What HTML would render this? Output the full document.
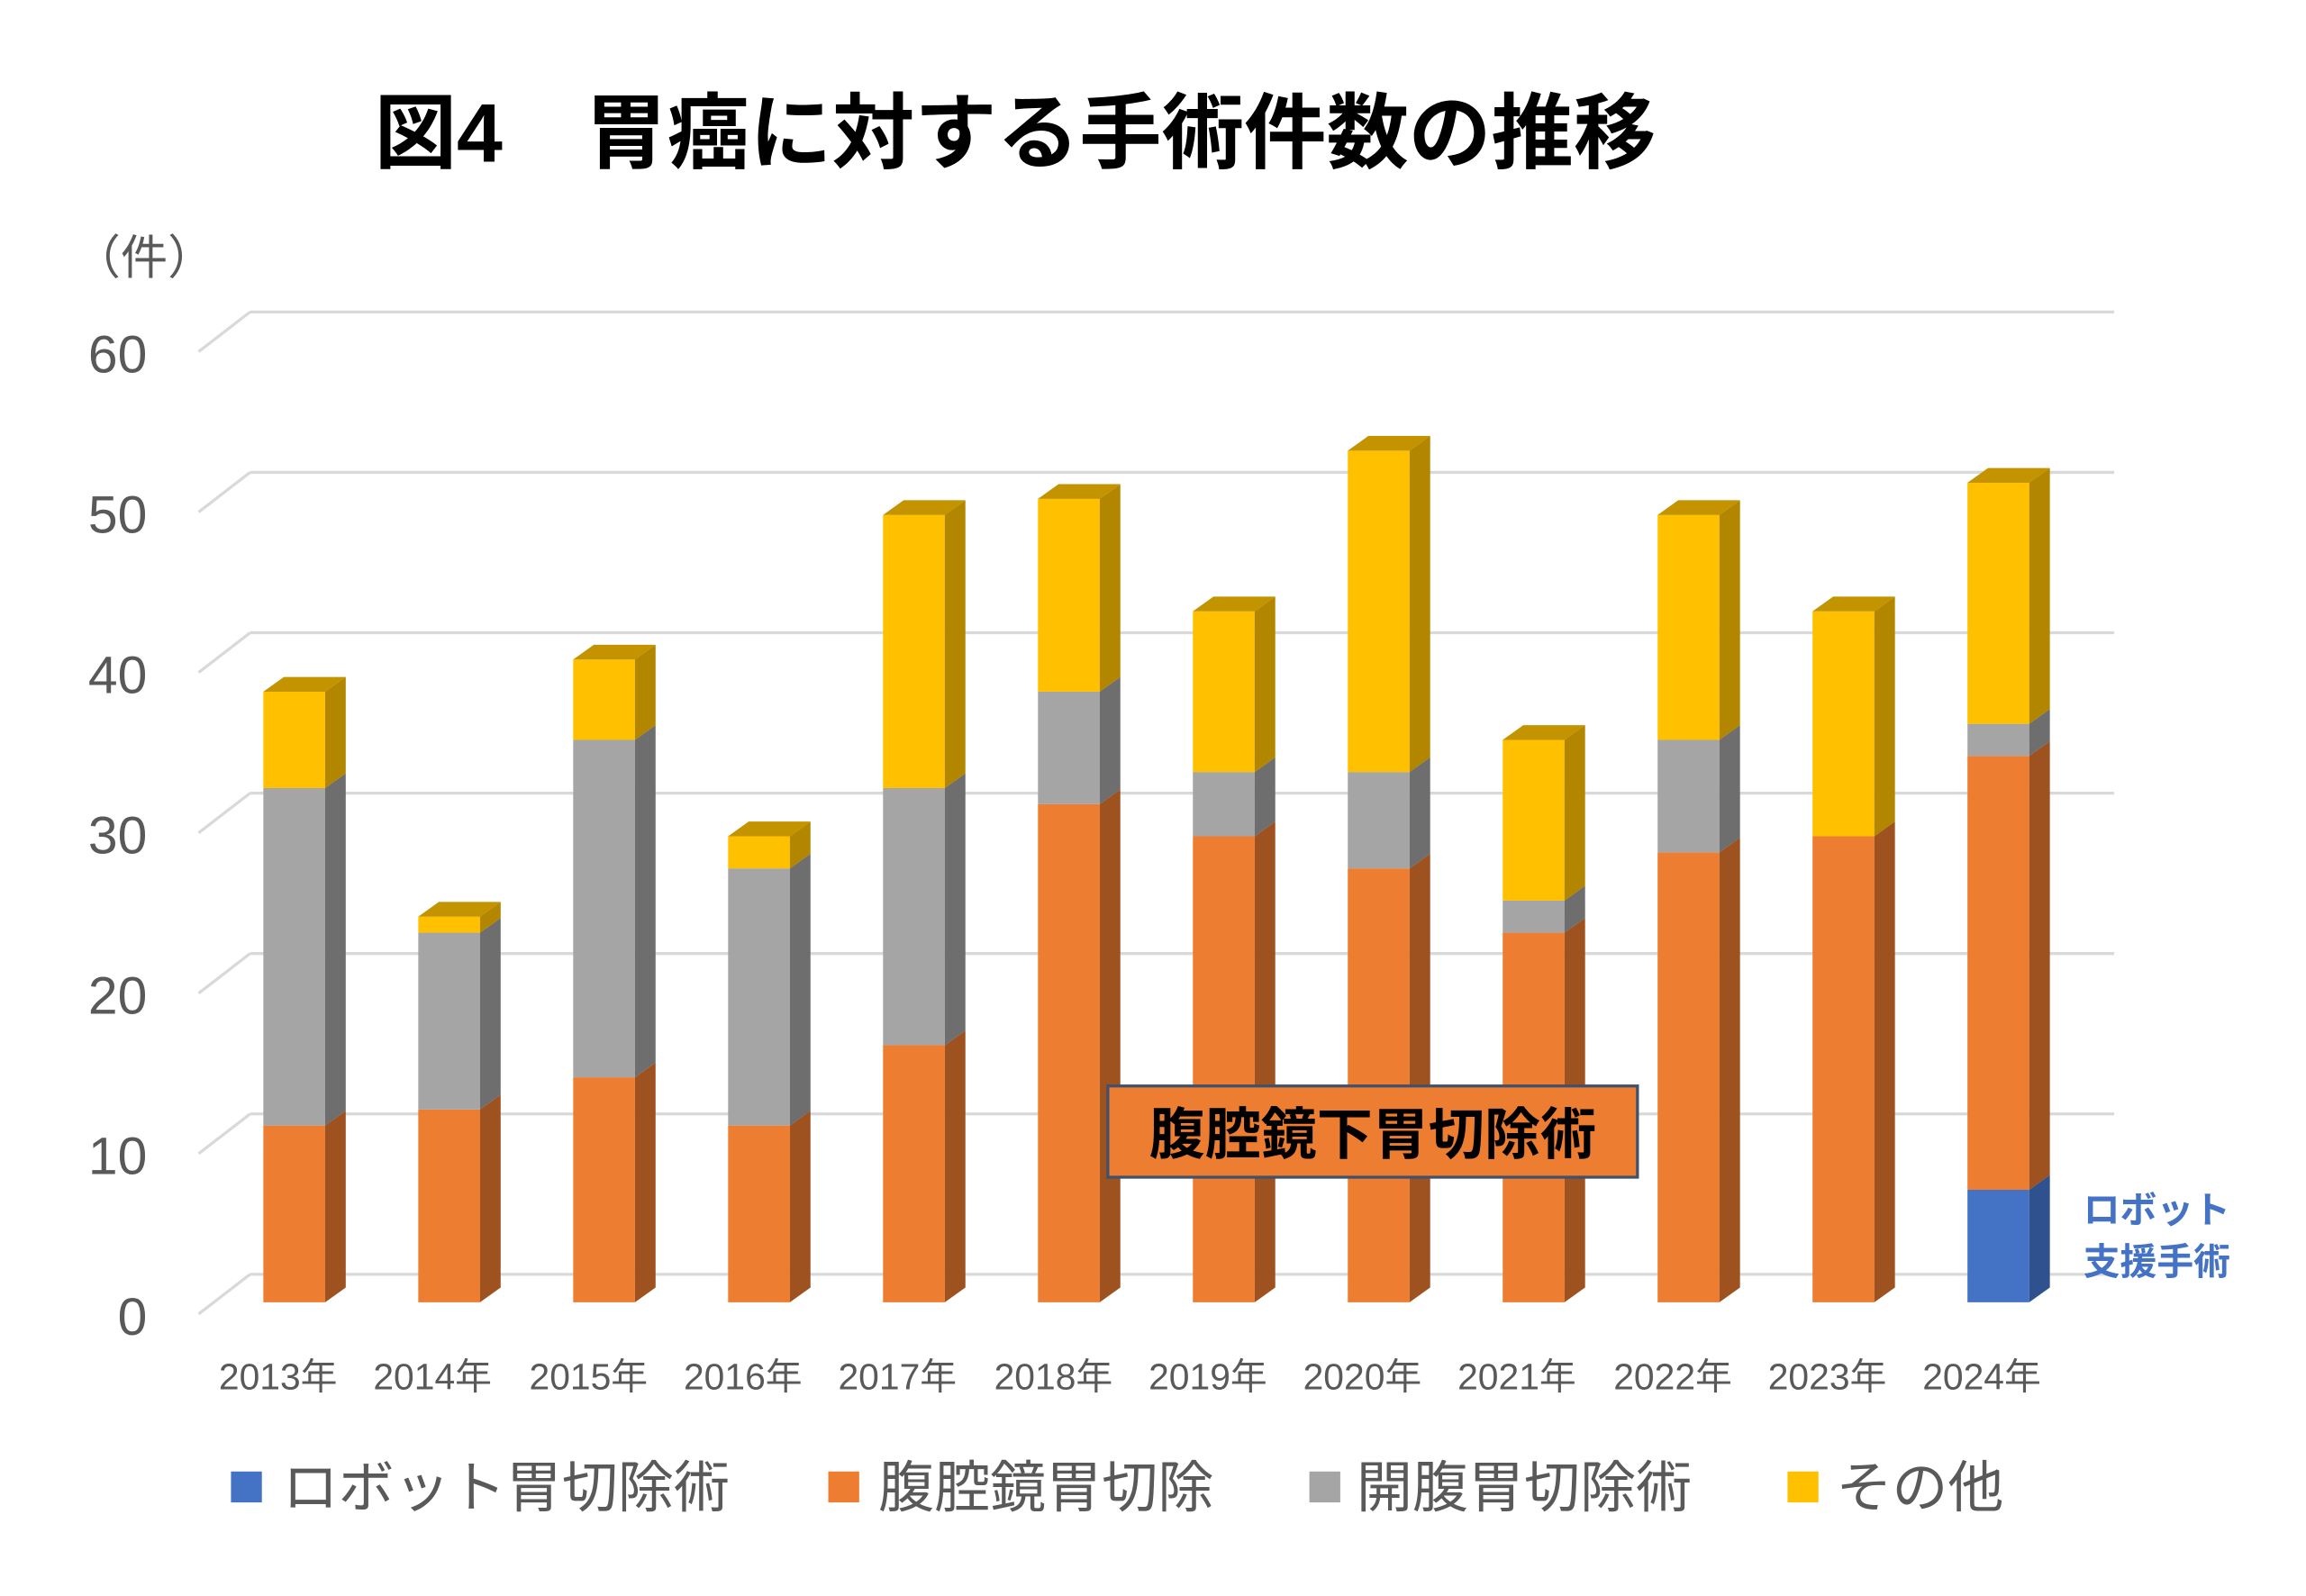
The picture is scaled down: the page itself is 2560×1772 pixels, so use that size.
<!DOCTYPE html>
<html><head><meta charset="utf-8"><style>
html,body{margin:0;padding:0;background:#fff;}
svg{display:block;}
text{font-family:"Liberation Sans","Noto Sans CJK JP",sans-serif;}
</style></head><body>
<svg id="s" width="2560" height="1772" viewBox="0 0 1567.4 1084.6" preserveAspectRatio="none" xmlns="http://www.w3.org/2000/svg">
<rect width="1600" height="1100" fill="#fff"/>
<g id="grid" stroke="#d9d9d9" stroke-width="2" fill="none"></g>
<text x="690" y="110" font-size="56" font-weight="bold" text-anchor="middle" fill="#000">図4　胃癌に対する手術件数の推移</text>
<text x="98" y="186" font-size="32" text-anchor="middle" fill="#595959">（件）</text>
<g font-size="36" fill="#595959" text-anchor="end">
<text x="100" y="253">60</text><text x="100" y="362">50</text><text x="100" y="471">40</text>
<text x="100" y="580">30</text><text x="100" y="689">20</text><text x="100" y="798">10</text>
<text x="100" y="907">0</text>
</g>
<g id="bars"></g>
<g font-size="25" fill="#595959" text-anchor="middle">
<text x="189" y="944">2013年</text><text x="294" y="944">2014年</text><text x="400" y="944">2015年</text>
<text x="505" y="944">2016年</text><text x="610" y="944">2017年</text><text x="716" y="944">2018年</text>
<text x="821" y="944">2019年</text><text x="926" y="944">2020年</text><text x="1031" y="944">2021年</text>
<text x="1137" y="944">2022年</text><text x="1242" y="944">2023年</text><text x="1347" y="944">2024年</text>
</g>
<rect x="753" y="738" width="360" height="62" fill="#ED7D31" stroke="#41506b" stroke-width="2"/>
<text x="933" y="784" font-size="38" font-weight="bold" text-anchor="middle" fill="#000">腹腔鏡下胃切除術</text>
<g font-size="25" font-weight="bold" fill="#4472C4" text-anchor="middle">
<text x="1466" y="831">ロボット</text><text x="1466" y="866">支援手術</text>
</g>
<g font-size="38" fill="#595959">
<rect x="157" y="1000" width="21" height="21" fill="#4472C4"/><text x="192" y="1024">ロボット胃切除術</text>
<rect x="563" y="1000" width="21" height="21" fill="#ED7D31"/><text x="597" y="1024">腹腔鏡胃切除</text>
<rect x="890" y="1000" width="21" height="21" fill="#A5A5A5"/><text x="922" y="1024">開腹胃切除術</text>
<rect x="1215" y="1000" width="21" height="21" fill="#FFC000"/><text x="1248" y="1024">その他</text>
</g>
</svg>
<script>
(function(){
var ns="http://www.w3.org/2000/svg";
function el(p,t,a){var e=document.createElementNS(ns,t);for(var k in a)e.setAttribute(k,a[k]);p.appendChild(e);return e;}
var g=document.getElementById('grid');
for(var v=0;v<=60;v+=10){var y=866-v*10.9;
 el(g,'line',{x1:170,y1:y,x2:1437,y2:y});
 el(g,'line',{x1:135,y1:y+27,x2:170,y2:y});}
var data=[[0,11,32,38],[0,12,23,24],[0,14,35,40],[0,11,27,29],[0,16,32,49],[0,31,38,50],[0,29,33,43],[0,27,33,53],[0,23,25,35],[0,28,35,49],[0,29,29,43],[7,34,36,51]];
var front=['#4472C4','#ED7D31','#A5A5A5','#FFC000'];
var side=['#2F528F','#9E5220','#6E6E6E','#B38600'];
var topc=['#3A62A8','#C86A28','#8A8A8A','#C49300'];
var b=document.getElementById('bars');
var base=885,k=10.92,w=42,dx=14,dy=10;
data.forEach(function(d,i){
 var x=179+i*105.3,prev=0,lastTop=0,li=0;
 for(var s=0;s<4;s++){var v=d[s];if(v<=prev)continue;
  var y0=base-prev*k,y1=base-v*k;
  el(b,'rect',{x:x,y:y1,width:w,height:y0-y1,fill:front[s]});
  el(b,'polygon',{points:[x+w,y0,x+w+dx,y0-dy,x+w+dx,y1-dy,x+w,y1].join(' '),fill:side[s]});
  prev=v;lastTop=y1;li=s;}
 el(b,'polygon',{points:[x,lastTop,x+dx,lastTop-dy,x+w+dx,lastTop-dy,x+w,lastTop].join(' '),fill:topc[li]});
});
})();
</script>
</body></html>
